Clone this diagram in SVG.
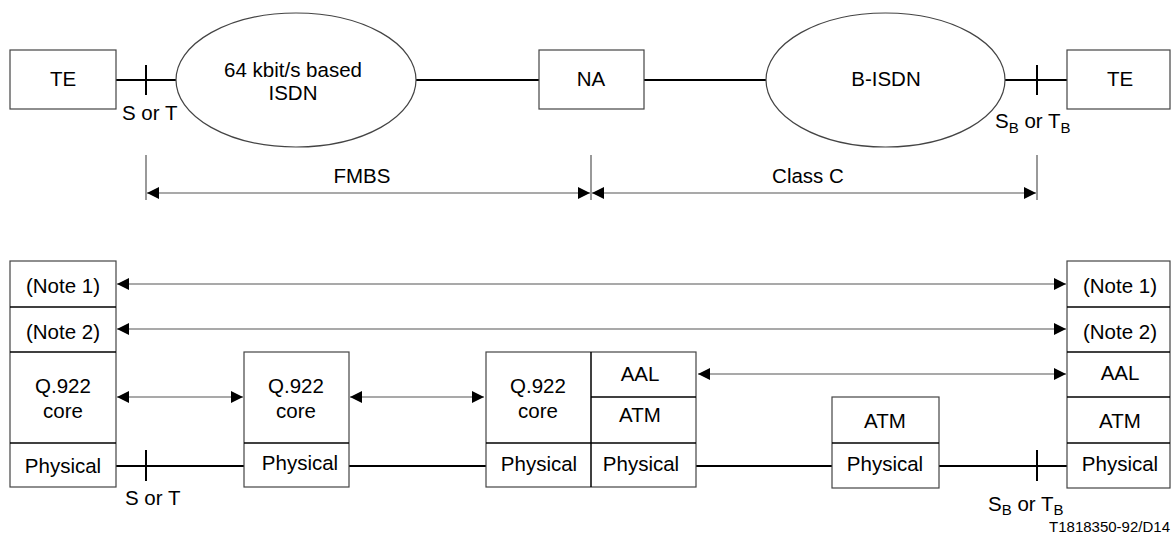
<svg xmlns="http://www.w3.org/2000/svg" width="1171" height="535" viewBox="0 0 1171 535">
<style>
text{font-family:"Liberation Sans",Arial,sans-serif;font-size:20.5px;fill:#000}
.c{text-anchor:middle}
.box{fill:#fff;stroke:#444;stroke-width:1.2}
.div{stroke:#000;stroke-width:1.5;fill:none}
.link{stroke:#000;stroke-width:2;fill:none}
.arr{stroke:#555;stroke-width:1.2;fill:none}
.dim{stroke:#555;stroke-width:1.2;fill:none}
.sub{font-size:15px}
.ref{font-size:15px}
</style>
<defs>
<marker id="ah" markerUnits="userSpaceOnUse" markerWidth="12" markerHeight="12" refX="12" refY="6" orient="auto-start-reverse" viewBox="0 0 12 12">
<path d="M0,0 L12,6 L0,12 z" fill="#000"/>
</marker>
</defs>
<rect width="1171" height="535" fill="#fff"/>

<g id="connectors">
<line class="link" x1="116" y1="80" x2="176" y2="80"/>
<line class="link" x1="146" y1="65" x2="146" y2="95"/>
<line class="link" x1="416" y1="80" x2="539" y2="80"/>
<line class="link" x1="644" y1="80" x2="766" y2="80"/>
<line class="link" x1="1005" y1="80" x2="1067" y2="80"/>
<line class="link" x1="1037" y1="65" x2="1037" y2="95"/>
<line class="dim" x1="146" y1="155" x2="146" y2="200"/>
<line class="dim" x1="591" y1="155" x2="591" y2="200"/>
<line class="dim" x1="1037" y1="155" x2="1037" y2="200"/>
<line class="arr" x1="147" y1="193" x2="590" y2="193" marker-start="url(#ah)" marker-end="url(#ah)"/>
<line class="arr" x1="592" y1="193" x2="1036" y2="193" marker-start="url(#ah)" marker-end="url(#ah)"/>
<line class="arr" x1="117" y1="284" x2="1066" y2="284" marker-start="url(#ah)" marker-end="url(#ah)"/>
<line class="arr" x1="117" y1="329" x2="1066" y2="329" marker-start="url(#ah)" marker-end="url(#ah)"/>
<line class="arr" x1="117" y1="397" x2="243" y2="397" marker-start="url(#ah)" marker-end="url(#ah)"/>
<line class="arr" x1="350" y1="397" x2="484" y2="397" marker-start="url(#ah)" marker-end="url(#ah)"/>
<line class="arr" x1="698" y1="374" x2="1066" y2="374" marker-start="url(#ah)" marker-end="url(#ah)"/>
<line class="link" x1="116" y1="466" x2="244" y2="466"/>
<line class="link" x1="146" y1="450" x2="146" y2="481"/>
<line class="link" x1="349" y1="466" x2="486" y2="466"/>
<line class="link" x1="696" y1="466" x2="832" y2="466"/>
<line class="link" x1="939" y1="466" x2="1067" y2="466"/>
<line class="link" x1="1037" y1="450" x2="1037" y2="481"/>
</g>

<g id="te-left">
<rect class="box" x="10" y="50" width="106" height="59"/>
<text class="c" x="63" y="85.5">TE</text>
</g>
<g id="isdn64">
<ellipse class="box" cx="296" cy="80" rx="120" ry="67"/>
<text class="c" x="293" y="77">64 kbit/s based</text>
<text class="c" x="293" y="100">ISDN</text>
</g>
<g id="na">
<rect class="box" x="539" y="50" width="105" height="59"/>
<text class="c" x="591" y="85.5">NA</text>
</g>
<g id="bisdn">
<ellipse class="box" cx="885.5" cy="80" rx="119.5" ry="67"/>
<text class="c" x="886" y="85.5">B-ISDN</text>
</g>
<g id="te-right">
<rect class="box" x="1067" y="50" width="103" height="59"/>
<text class="c" x="1120" y="85.5">TE</text>
</g>

<g id="labels">
<text x="122" y="120">S or T</text>
<text x="995" y="128">S<tspan class="sub" dy="5">B</tspan><tspan dy="-5"> or T</tspan><tspan class="sub" dy="5">B</tspan></text>
<text class="c" x="362" y="183">FMBS</text>
<text class="c" x="808" y="183">Class C</text>
<text x="125" y="505">S or T</text>
<text x="988" y="511">S<tspan class="sub" dy="4">B</tspan><tspan dy="-4"> or T</tspan><tspan class="sub" dy="4">B</tspan></text>
<text class="ref" x="1170" y="532" text-anchor="end">T1818350-92/D14</text>
</g>

<g id="stack-te-left">
<rect class="box" x="10" y="261" width="106" height="226"/>
<line class="div" x1="10" y1="307" x2="116" y2="307"/>
<line class="div" x1="10" y1="352" x2="116" y2="352"/>
<line class="div" x1="10" y1="443" x2="116" y2="443"/>
<text class="c" x="63" y="293">(Note 1)</text>
<text class="c" x="63" y="339">(Note 2)</text>
<text class="c" x="63" y="393">Q.922</text>
<text class="c" x="63" y="418">core</text>
<text class="c" x="63" y="473">Physical</text>
</g>

<g id="stack-fr-node">
<rect class="box" x="244" y="352" width="105" height="135"/>
<line class="div" x1="244" y1="443" x2="349" y2="443"/>
<text class="c" x="296" y="393">Q.922</text>
<text class="c" x="296" y="418">core</text>
<text class="c" x="300" y="470">Physical</text>
</g>

<g id="stack-na">
<rect class="box" x="486" y="352" width="210" height="135"/>
<line class="div" x1="591" y1="352" x2="591" y2="487"/>
<line class="div" x1="486" y1="443" x2="696" y2="443"/>
<line class="div" x1="591" y1="397" x2="696" y2="397"/>
<text class="c" x="538" y="393">Q.922</text>
<text class="c" x="538" y="418">core</text>
<text class="c" x="539" y="471">Physical</text>
<text class="c" x="640" y="381">AAL</text>
<text class="c" x="640" y="422">ATM</text>
<text class="c" x="641" y="471">Physical</text>
</g>

<g id="stack-atm-switch">
<rect class="box" x="832" y="397" width="107" height="91"/>
<line class="div" x1="832" y1="443" x2="939" y2="443"/>
<text class="c" x="885" y="428">ATM</text>
<text class="c" x="885" y="471">Physical</text>
</g>

<g id="stack-te-right">
<rect class="box" x="1067" y="261" width="103" height="227"/>
<line class="div" x1="1067" y1="307" x2="1170" y2="307"/>
<line class="div" x1="1067" y1="352" x2="1170" y2="352"/>
<line class="div" x1="1067" y1="397" x2="1170" y2="397"/>
<line class="div" x1="1067" y1="443" x2="1170" y2="443"/>
<text class="c" x="1120" y="293">(Note 1)</text>
<text class="c" x="1120" y="339">(Note 2)</text>
<text class="c" x="1120" y="380">AAL</text>
<text class="c" x="1120" y="428">ATM</text>
<text class="c" x="1120" y="471">Physical</text>
</g>
</svg>
